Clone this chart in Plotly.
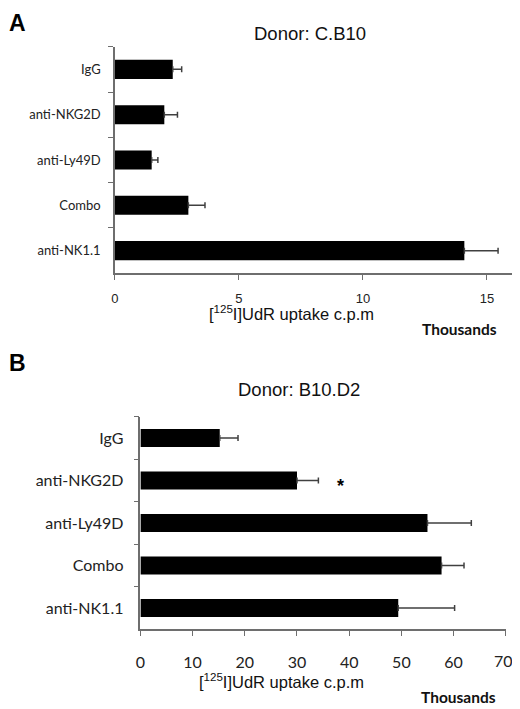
import plotly.graph_objects as go

# Dados (valores em milhares de c.p.m)
categorias = ['IgG', 'anti-NKG2D', 'anti-Ly49D', 'Combo', 'anti-NK1.1']

cb10_media = [2.33, 1.99, 1.48, 2.96, 14.09]
cb10_erro = [0.36, 0.53, 0.25, 0.67, 1.36]

b10d2_media = [15.2, 30.0, 55.0, 57.7, 49.4]
b10d2_erro = [3.5, 4.1, 8.4, 4.3, 10.8]

ticks_a = [0, 5, 10, 15]
ticks_b = [0, 10, 20, 30, 40, 50, 60, 70]

titulo_x = '[<sup>125</sup>I]UdR uptake c.p.m'

fonte_cat = 'Lato'
fonte_arial = 'Liberation Sans'
cinza = '#6e6e6e'

# a página tem margem de 8px no body: a figura fica deslocada
OFF = 8
W, H = 520 - 2 * OFF, 709 - OFF


def px(x):
    return (x - OFF) / W


def py(y):
    return 1 - (y - OFF) / H


def barras(media, erro, xa, ya):
    return go.Bar(
        y=categorias, x=media, orientation='h',
        xaxis=xa, yaxis=ya,
        marker=dict(color='black', line=dict(width=0)),
        width=0.42,
        error_x=dict(type='data', array=erro, arrayminus=[0] * len(erro),
                     symmetric=False, color='#404040', thickness=1.5, width=3),
        showlegend=False, hoverinfo='x+y',
    )


fig = go.Figure()
fig.add_trace(barras(cb10_media, cb10_erro, 'x', 'y'))
fig.add_trace(barras(b10d2_media, b10d2_erro, 'x2', 'y2'))

eixo_y = dict(type='category', categoryorder='array', categoryarray=categorias,
              autorange='reversed', showline=True, linecolor=cinza, linewidth=1.5,
              ticks='outside', tickson='boundaries', ticklen=5, tickcolor=cinza,
              showgrid=False, zeroline=False)
eixo_x = dict(showline=True, linecolor=cinza, linewidth=1.5, ticks='outside', ticklen=5,
              tickcolor=cinza, showgrid=False, zeroline=False)

# o último rótulo (70) sairia da página; é escrito à parte, encostado na borda
ticktext_b = [str(v) for v in ticks_b[:-1]] + ['']

fig.update_layout(
    width=W, height=H,
    margin=dict(l=0, r=0, t=0, b=0),
    paper_bgcolor='white', plot_bgcolor='white',
    xaxis=dict(domain=[px(111), px(511.7)], anchor='y', range=[0, 16],
               tickvals=ticks_a, ticklabelstandoff=7,
               tickfont=dict(family=fonte_arial, size=13, color='#222'), **eixo_x),
    yaxis=dict(domain=[py(273.3), py(46.7)], anchor='x', ticklabelstandoff=10,
               tickfont=dict(family=fonte_cat, size=13, color='#222'), **eixo_y),
    xaxis2=dict(domain=[px(136.7), px(505.7)], anchor='y2', range=[0, 70],
                tickvals=ticks_b, ticktext=ticktext_b, ticklabelstandoff=13,
                tickfont=dict(family=fonte_cat, size=16, color='#222'), **eixo_x),
    yaxis2=dict(domain=[py(629.3), py(416.7)], anchor='x2', ticklabelstandoff=12,
                tickfont=dict(family=fonte_cat, size=16, color='#222'), **eixo_y),
)

anotacoes = [
    dict(text='<b>A</b>', x=13, y=8, size=23, fam=fonte_arial, ya='top', cor='black'),
    dict(text='<b>B</b>', x=13, y=363, size=23, fam=fonte_arial, ya='middle', cor='black'),
    dict(text='Donor: C.B10', x=308, y=33, size=18.5, fam=fonte_arial, ya='middle', cor='#111'),
    dict(text='Donor: B10.D2', x=297, y=390, size=18.5, fam=fonte_arial, ya='middle', cor='#111'),
    dict(text=titulo_x, x=289, y=313, size=16.5, fam=fonte_arial, ya='middle', cor='#111'),
    dict(text=titulo_x, x=279, y=681, size=16.5, fam=fonte_arial, ya='middle', cor='#111'),
    dict(text='<b>Thousands</b>', x=459, y=329, size=15.5, fam=fonte_cat, ya='middle', cor='#111'),
    dict(text='<b>Thousands</b>', x=458, y=697, size=15.5, fam=fonte_cat, ya='middle', cor='#111'),
    dict(text=str(ticks_b[-1]), x=503, y=660.5, size=16, fam=fonte_cat, ya='middle', cor='#222'),
]
for a in anotacoes:
    fig.add_annotation(text=a['text'], x=px(a['x']), y=py(a['y']), xref='paper', yref='paper',
                       showarrow=False, xanchor='center', yanchor=a['ya'],
                       font=dict(family=a['fam'], size=a['size'], color=a['cor']))

# Asterisco de significância ao lado de anti-NKG2D
fig.add_annotation(text='<b>*</b>', x=38.4, y='anti-NKG2D', xref='x2', yref='y2',
                   showarrow=False, yshift=-6,
                   font=dict(family=fonte_arial, size=18, color='black'))

fig.write_html('out.html')
